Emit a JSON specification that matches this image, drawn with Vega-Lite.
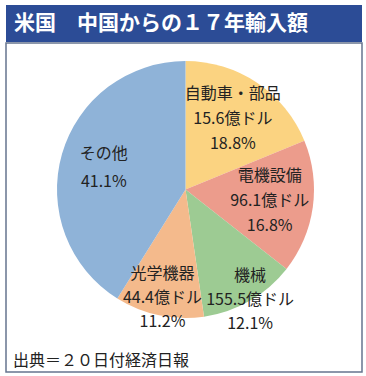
{
  "$schema": "https://vega.github.io/schema/vega-lite/v6.json",
  "padding": 5,
  "background": "white",
  "spacing": 0,
  "config": {"view": {"stroke": null}, "concat": {"spacing": 0}},
  "vconcat": [
    {
      "width": 356,
      "height": 37,
      "view": {"fill": "#2c4c96", "stroke": null},
      "title": {
        "text": "米国　中国からの１７年輸入額",
        "orient": "bottom",
        "anchor": "start",
        "frame": "group",
        "offset": -18.5,
        "baseline": "middle",
        "dx": 8,
        "color": "white",
        "font": "Noto Sans CJK JP",
        "fontSize": 21,
        "fontWeight": "bold"
      },
      "data": {"values": [{}]},
      "mark": {"type": "text"}
    },
    {
      "width": 356,
      "height": 329,
      "view": {"fill": "white", "stroke": "#66748f", "strokeWidth": 1.5},
      "title": {
        "text": "出典＝２０日付経済日報",
        "orient": "bottom",
        "anchor": "start",
        "frame": "group",
        "offset": -11,
        "baseline": "middle",
        "dx": 7,
        "color": "#222222",
        "font": "Noto Sans CJK JP",
        "fontSize": 16,
        "fontWeight": "normal"
      },
      "data": {
        "values": [
          {"category": "自動車・部品", "amount": "15.6億ドル", "share": 18.8, "idx": 1},
          {"category": "電機設備", "amount": "96.1億ドル", "share": 16.8, "idx": 2},
          {"category": "機械", "amount": "155.5億ドル", "share": 12.1, "idx": 3},
          {"category": "光学機器", "amount": "44.4億ドル", "share": 11.2, "idx": 4},
          {"category": "その他", "amount": null, "share": 41.1, "idx": 5}
        ]
      },
      "transform": [
        {"stack": "share", "groupby": [], "sort": [{"field": "idx", "order": "ascending"}], "as": ["s0", "s1"]},
        {"calculate": "(datum.s0 + datum.s1) / 2", "as": "mid"},
        {"calculate": "datum.category + '\\n' + (datum.amount ? datum.amount + '\\n' : '') + format(datum.share, '.1f') + '%'", "as": "label"}
      ],
      "layer": [
        {
          "mark": {"type": "arc", "radius": 128.5},
          "encoding": {
            "x": {"value": 179.5},
            "y": {"value": 146.5},
            "theta": {"field": "s0", "type": "quantitative", "scale": {"domain": [0, 100]}},
            "theta2": {"field": "s1"},
            "color": {
              "field": "category",
              "type": "nominal",
              "scale": {
                "domain": ["自動車・部品", "電機設備", "機械", "光学機器", "その他"],
                "range": ["#fbd381", "#ec9c8c", "#9dcb93", "#f4ba8c", "#8fb3d8"]
              },
              "legend": null
            }
          }
        },
        {
          "transform": [{"filter": "datum.idx == 1 || datum.idx == 2"}],
          "mark": {"type": "text", "radius": 85, "dy": -25, "lineBreak": "\n", "lineHeight": 25, "fontSize": 16, "font": "Noto Sans CJK JP", "color": "#222222", "align": "center", "baseline": "middle"},
          "encoding": {
            "x": {"value": 179.5},
            "y": {"value": 146.5},
            "theta": {"field": "mid", "type": "quantitative"},
            "text": {"field": "label", "type": "nominal"}
          }
        },
        {
          "transform": [{"filter": "datum.idx == 5"}],
          "mark": {"type": "text", "radius": 85, "dy": -12.5, "lineBreak": "\n", "lineHeight": 28, "fontSize": 16, "font": "Noto Sans CJK JP", "color": "#222222", "align": "center", "baseline": "middle"},
          "encoding": {
            "x": {"value": 179.5},
            "y": {"value": 146.5},
            "theta": {"field": "mid", "type": "quantitative"},
            "text": {"field": "label", "type": "nominal"}
          }
        },
        {
          "transform": [{"filter": "datum.idx == 4"}],
          "mark": {"type": "text", "radius": 112, "dy": -25, "lineBreak": "\n", "lineHeight": 24, "fontSize": 16, "font": "Noto Sans CJK JP", "color": "#222222", "align": "center", "baseline": "middle"},
          "encoding": {
            "x": {"value": 179.5},
            "y": {"value": 146.5},
            "theta": {"field": "mid", "type": "quantitative"},
            "text": {"field": "label", "type": "nominal"}
          }
        },
        {
          "transform": [{"filter": "datum.idx == 3"}],
          "mark": {"type": "text", "radius": 129, "dy": -25, "lineBreak": "\n", "lineHeight": 24, "fontSize": 16, "font": "Noto Sans CJK JP", "color": "#222222", "align": "center", "baseline": "middle"},
          "encoding": {
            "x": {"value": 179.5},
            "y": {"value": 146.5},
            "theta": {"field": "mid", "type": "quantitative"},
            "text": {"field": "label", "type": "nominal"}
          }
        }
      ]
    }
  ]
}
